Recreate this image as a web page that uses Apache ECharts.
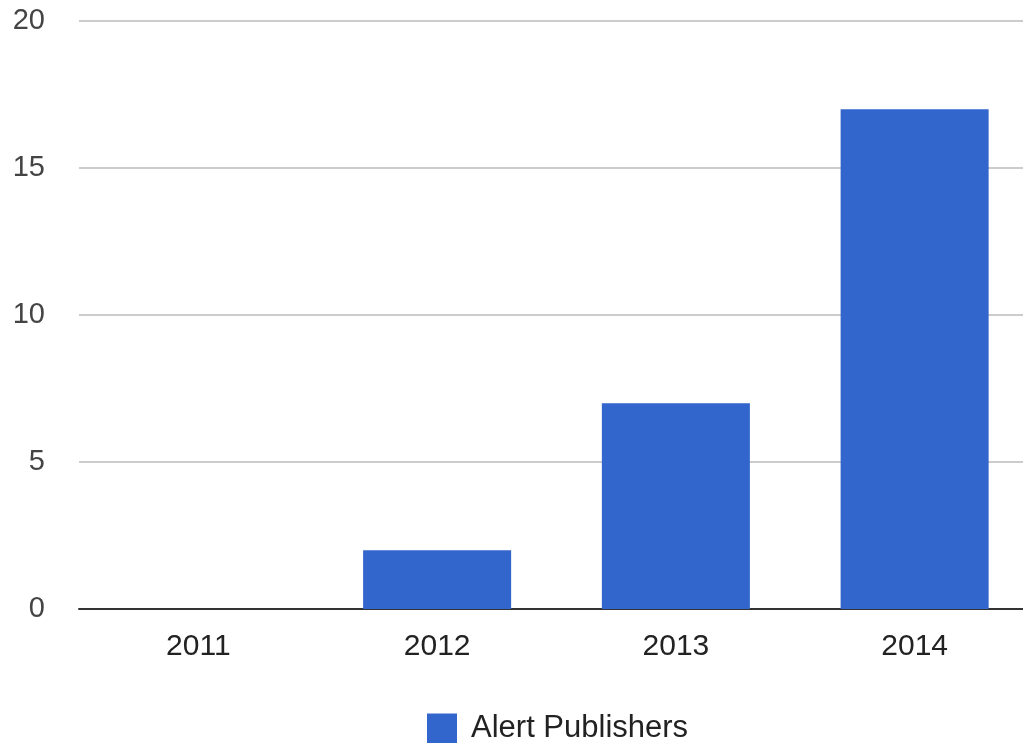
<!DOCTYPE html>
<html><head><meta charset="utf-8">
<script src="https://cdn.jsdelivr.net/npm/echarts@6/dist/echarts.min.js"></script>
<style>html,body{margin:0;padding:0;background:#fff}#c{width:1023px;height:743px}</style>
</head><body><div id="c"></div>
<script>
const categories = ['2011','2012','2013','2014'];
const alertPublishers = [0, 2, 7, 17];
const seriesName = 'Alert Publishers';

const chart = echarts.init(document.getElementById('c'));
chart.setOption({
  animation: false,
  grid: {left: 79, top: 21, width: 955, height: 588, containLabel: false, outerBoundsMode: 'none'},
  legend: {
    data: [seriesName], top: 713, left: 427, padding: 0,
    itemWidth: 30, itemHeight: 30, icon: 'rect',
    textStyle: {fontFamily: 'Liberation Sans, Arial', fontSize: 31, color: '#222', padding: [0, 0, 0, 9]}
  },
  xAxis: {
    type: 'category', data: categories,
    axisLine: {lineStyle: {color: '#333', width: 2}},
    axisTick: {show: false},
    axisLabel: {fontFamily: 'Liberation Sans, Arial', fontSize: 30, color: '#222', margin: 23}
  },
  yAxis: {
    type: 'value', min: 0, max: 20, interval: 5,
    axisLine: {show: false}, axisTick: {show: false},
    splitLine: {lineStyle: {color: '#ccc', width: 2}},
    axisLabel: {fontFamily: 'Liberation Sans, Arial', fontSize: 29, color: '#444', margin: 34, align: 'right'}
  },
  series: [{
    name: seriesName, type: 'bar', data: alertPublishers,
    barWidth: '62%', itemStyle: {color: '#3366cc'}
  }]
});
</script></body></html>
